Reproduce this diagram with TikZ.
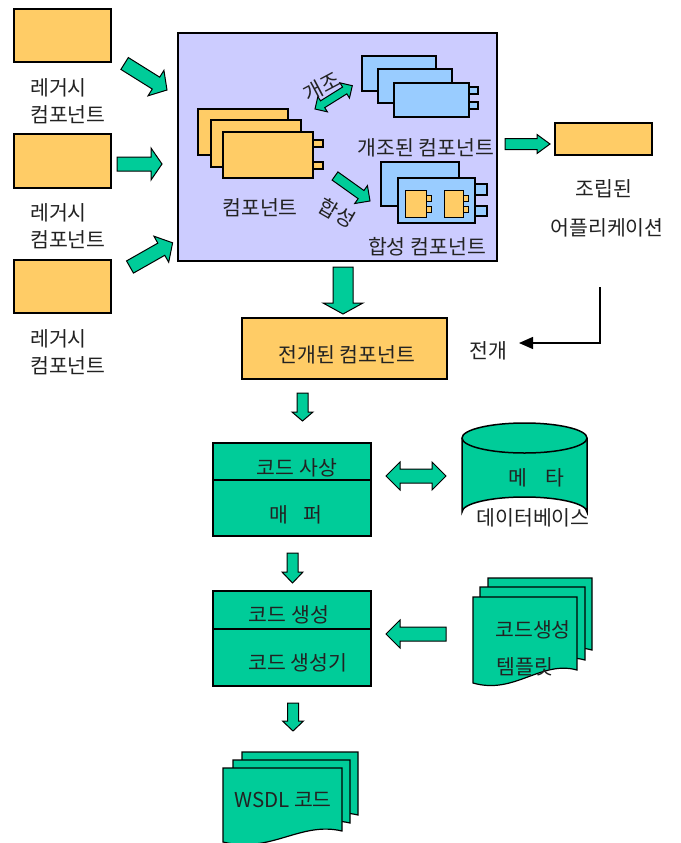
\documentclass[tikz,border=0pt]{standalone}
\usepackage{fontspec}
\setmainfont{Noto Sans CJK KR}
\usetikzlibrary{arrows.meta}
\definecolor{orangeC}{HTML}{FFCC66}
\definecolor{greenC}{HTML}{00CC99}
\definecolor{lavC}{HTML}{CCCCFF}
\definecolor{blueC}{HTML}{99CCFF}
\definecolor{txtC}{HTML}{222222}
% single block arrow: x y angle length shaft head headlen
\newcommand\blockarrow[7]{%
  \draw[barrow,shift={(#1,#2)},rotate=#3] (0,-#5/2) -- ({#4-#7},-#5/2) -- ({#4-#7},-#6/2) -- (#4,0)
   -- ({#4-#7},#6/2) -- ({#4-#7},#5/2) -- (0,#5/2) -- cycle;}
% double block arrow from one tip
\newcommand\dblockarrow[7]{%
  \draw[barrow,shift={(#1,#2)},rotate=#3] (0,0) -- (#7,-#6/2) -- (#7,-#5/2) -- ({#4-#7},-#5/2) -- ({#4-#7},-#6/2) -- (#4,0)
   -- ({#4-#7},#6/2) -- ({#4-#7},#5/2) -- (#7,#5/2) -- (#7,#6/2) -- cycle;}
% document sheet: x0 ytop x1 ybottom-left ybottom-right
\newcommand\docsheet[5]{%
  \draw[sheet] (#1,#2) -- (#3,#2) -- (#3,#5)
   .. controls ({#3-0.35*(#3-#1)},{#5-10}) and ({#1+0.4*(#3-#1)},{#4+12}) .. (#1,#4) -- cycle;}
\tikzset{
  barrow/.style={draw=black, fill=greenC, line width=1pt, line join=miter},
  sheet/.style={draw=black, fill=greenC, line width=1.2pt},
  obox/.style={draw=black, fill=orangeC, line width=1.3pt},
  bbox/.style={draw=black, fill=blueC, line width=1.3pt},
  gbox/.style={draw=black, fill=greenC, line width=1.5pt, inner sep=0pt},
  lbl/.style={font=\fontsize{20.5}{22}\selectfont, text=txtC, inner sep=0pt},
  conn/.style={draw=black, line width=1.3pt, -{Triangle[length=14pt,width=12pt]}},
}
\begin{document}
\begin{tikzpicture}[x=1pt,y=-1pt]
\useasboundingbox (0,0) rectangle (680,843);

% legacy components
\node[obox, inner sep=0pt, minimum width=97, minimum height=53] (leg1) at (62.5,35.5) {};
\node[obox, inner sep=0pt, minimum width=97, minimum height=54] (leg2) at (62.5,161) {};
\node[obox, inner sep=0pt, minimum width=97, minimum height=53] (leg3) at (62.5,286.5) {};
\node[lbl, anchor=west] (leg1a) at (30,88) {레거시};
\node[lbl, anchor=west] (leg1b) at (30,115) {컴포넌트};
\node[lbl, anchor=west] (leg2a) at (30,213) {레거시};
\node[lbl, anchor=west] (leg2b) at (30,240) {컴포넌트};
\node[lbl, anchor=west] (leg3a) at (30,339) {레거시};
\node[lbl, anchor=west] (leg3b) at (30,366) {컴포넌트};

\blockarrow{124.6}{63.5}{-32}{50}{14}{30}{13}
\blockarrow{117}{164}{0}{45}{14}{32}{11}
\blockarrow{130}{267}{29.6}{49}{14}{30}{13}

% composition area
\node[draw=black, fill=lavC, line width=1.8pt, inner sep=0pt, minimum width=319, minimum height=228] (area) at (337.5,147) {};

% orange component stack
\draw[obox] (198,109) rectangle (288,155);
\draw[obox] (211,120) rectangle (301,167);
\draw[obox] (313,140) rectangle (323,147);
\draw[obox] (313,162) rectangle (323,169);
\draw[obox] (223,132) rectangle (313,178);
\node[lbl] (comp) at (260,208) {컴포넌트};

% adapted component stack
\draw[bbox] (362,56) rectangle (436,91);
\draw[bbox] (378,69) rectangle (452,103);
\draw[bbox] (469,87) rectangle (478,94);
\draw[bbox] (469,102) rectangle (478,109);
\draw[bbox] (394,83) rectangle (469,117);
\node[lbl] (adapt) at (426,148) {개조된 컴포넌트};

% composite component
\draw[bbox] (381,162) rectangle (459,206);
\draw[bbox] (475,184) rectangle (487,195);
\draw[bbox] (475,206) rectangle (487,216);
\draw[bbox] (398,178) rectangle (475,223);
\draw[obox, line width=1pt] (426,195) rectangle (431,201);
\draw[obox, line width=1pt] (426,206) rectangle (431,212);
\draw[obox, line width=1pt] (405,190) rectangle (426,217);
\draw[obox, line width=1pt] (463,195) rectangle (468,201);
\draw[obox, line width=1pt] (463,206) rectangle (468,212);
\draw[obox, line width=1pt] (444,190) rectangle (463,217);
\node[lbl] (compo) at (427,247) {합성 컴포넌트};

\dblockarrow{315}{109}{32}{44}{8}{18}{9}
\node[lbl, rotate=28] (adaptlbl) at (322,87) {개조};
\blockarrow{335}{176}{-35.5}{43}{10}{22}{11}
\node[lbl, rotate=-30] (compolbl) at (337,213) {합성};

% assembled application
\blockarrow{505}{144}{0}{45}{11}{19}{13}
\node[obox, inner sep=0pt, minimum width=97, minimum height=32] (app) at (603.5,139) {};
\node[lbl] (appa) at (604,189) {조립된};
\node[lbl] (appb) at (607,228) {어플리케이션};

% deployment connector
\coordinate (jtop) at (600,287);
\coordinate (jcorner) at (600,343);
\coordinate (jend) at (519,343);
\draw[conn] (jtop) -- (jcorner) -- (jend);
\node[lbl] (deplbl) at (488,351) {전개};

% deployed component
\blockarrow{343}{267}{-90}{47}{20}{40}{11}
\node[obox, inner sep=0pt, minimum width=205, minimum height=61] (dep) at (344.5,348.5) {};
\node[lbl] at (347,355) {전개된 컴포넌트};

% code mapper
\blockarrow{302.5}{393}{-90}{28}{11}{21}{9}
\node[gbox, minimum width=158, minimum height=93] (map) at (292,489.5) {};
\draw[line width=1.3pt] (map.west |- 0,480) -- (map.east |- 0,480);
\node[lbl] (mapa) at (297,468) {코드 사상};
\node[lbl] (mapb) at (296,515) {매\hspace{16pt}퍼};

\dblockarrow{386}{476}{0}{60}{14}{28}{14}

% meta database
\draw[gbox] (462,438) -- (462,512) arc[start angle=180, end angle=360, x radius=62.5, y radius=15] -- (587,438);
\draw[gbox] (524.5,438) ellipse[x radius=62.5, y radius=15];
\node[lbl] (dba) at (536,478) {메\hspace{18pt}타};
\node[lbl] (dbb) at (533,518) {데이터베이스};

% code generator
\blockarrow{292.5}{553}{-90}{30}{11}{21}{11}
\node[gbox, minimum width=158, minimum height=95] (gen) at (292,638.5) {};
\draw[line width=1.3pt] (gen.west |- 0,629) -- (gen.east |- 0,629);
\node[lbl] (gena) at (289,615) {코드 생성};
\node[lbl] (genb) at (298,663) {코드 생성기};

\blockarrow{446}{634}{180}{60}{14}{28}{14}

% template stack
\docsheet{488}{578}{592}{662}{650}
\docsheet{480}{587}{585}{672}{660}
\docsheet{473}{597}{577}{683}{670}
\node[lbl] (tpla) at (533,630) {코드생성};
\node[lbl] (tplb) at (525,667) {템플릿};

% WSDL code
\blockarrow{293}{703}{-90}{28}{11}{21}{10}
\docsheet{242}{752}{358}{826}{815}
\docsheet{233}{760}{350}{834}{823}
\docsheet{223}{768}{342}{842}{831}
\node[lbl] (wsdl) at (283,800) {WSDL 코드};
\end{tikzpicture}
\end{document}
